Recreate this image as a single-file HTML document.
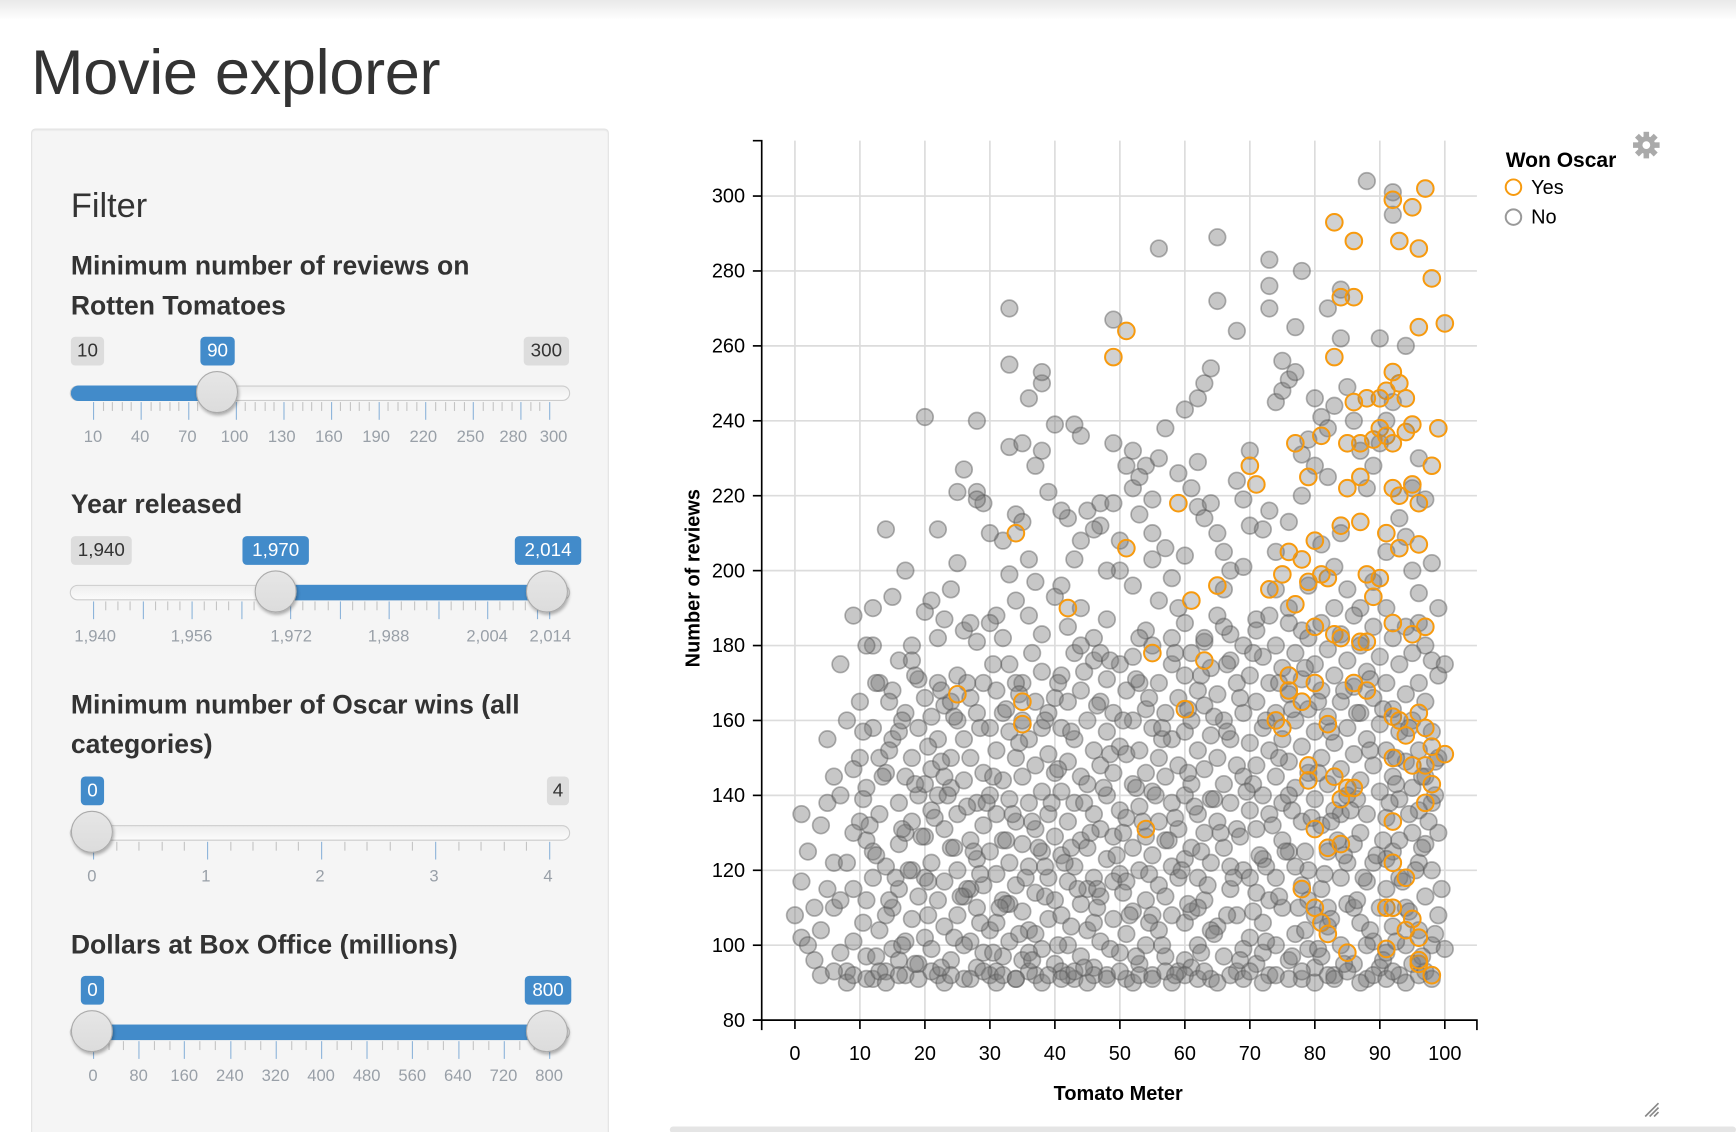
<!DOCTYPE html>
<html><head><meta charset="utf-8">
<style>
html,body{margin:0;padding:0;background:#fff;overflow:hidden;}
body{width:1736px;height:1132px;position:relative;font-family:"Liberation Sans",Arial,sans-serif;}
#wrap{position:absolute;left:0;top:0;width:1568px;height:1022px;transform-origin:0 0;transform:scale(1.10714,1.10763);}
.topshade{position:absolute;left:0;top:0;width:1568px;height:18px;background:linear-gradient(#e9e9e9,#fff);}
h1{position:absolute;left:28px;top:33px;margin:0;font-size:57px;font-weight:normal;color:#333;letter-spacing:-0.3px;}
.panel{position:absolute;left:28px;top:116px;width:520px;height:930px;background:#f5f5f5;border:1px solid #e3e3e3;border-radius:4px;box-shadow:inset 0 1px 1px rgba(0,0,0,.05);}
.abs{position:absolute;}
.lbl{position:absolute;font-weight:bold;font-size:24px;color:#333;line-height:36px;}
.badge{position:absolute;height:26px;line-height:26px;font-size:17px;padding:0 5px;border-radius:4px;text-align:center;}
.gb{background:#ddd;color:#333;}
.bb{background:#428bca;color:#fff;}
.track{position:absolute;height:12px;border:1px solid #ccc;border-radius:7px;background:linear-gradient(#eee,#fbfbfb);}
.fill{position:absolute;height:14px;background:#428bca;}
.handle{position:absolute;width:36px;height:36px;border-radius:50%;border:1px solid #aaa;background:linear-gradient(#e6e6e6,#dcdcdc);box-shadow:1px 2px 3px rgba(0,0,0,.3);}
.tk{position:absolute;width:1px;}
.tl{position:absolute;font-size:15px;color:#99a0a8;transform:translateX(-50%);white-space:nowrap;}
</style></head><body>
<div id="wrap">
<div class="topshade"></div>
<h1>Movie explorer</h1>
<div class="panel"></div>
<div class="abs" style="left:64px;top:168px;font-size:31px;color:#333;">Filter</div>

<div class="lbl" style="left:64px;top:223px;">Minimum number of reviews on<br>Rotten Tomatoes</div>
<div id="s1"></div>

<div class="lbl" style="left:64px;top:438px;">Year released</div>
<div id="s2"></div>

<div class="lbl" style="left:64px;top:619px;">Minimum number of Oscar wins (all<br>categories)</div>
<div id="s3"></div>

<div class="lbl" style="left:64px;top:836px;">Dollars at Box Office (millions)</div>
<div id="s4"></div>

<svg id="chart" class="abs" style="left:0;top:0" width="1568" height="1022"></svg>

<svg class="abs" style="left:1474px;top:118px" width="26" height="26" viewBox="0 0 26 26">
<g fill="#aaa" transform="translate(13,13)">
<circle r="8"/>
<rect x="-2.5" y="-12" width="5" height="24"/><rect x="-2.5" y="-12" width="5" height="24" transform="rotate(45)"/><rect x="-2.5" y="-12" width="5" height="24" transform="rotate(90)"/><rect x="-2.5" y="-12" width="5" height="24" transform="rotate(135)"/>
<circle r="3.5" fill="#fff"/></g></svg>
<svg class="abs" style="left:1484px;top:994px" width="16" height="16"><path d="M2 14 L14 2 M6 14 L14 6 M10 14 L14 10" stroke="#888" stroke-width="1.5"/></svg>
<div class="abs" style="left:605px;top:1017px;width:963px;height:6px;background:#e5e5e5;border-radius:3px;"></div>
</div>

<script>
// ---------- chart data ----------
const xTicks = [0,10,20,30,40,50,60,70,80,90,100];
const yTicks = [80,100,120,140,160,180,200,220,240,260,280,300];
const noOscarMeter = [88,92,92,56,65,73,78,33,65,73,73,49,82,84,68,77,84,90,94,33,38,36,38,33,35,38,40,43,44,49,51,20,28,26,25,28,29,28,22,14,25,24,17,15,12,9,12,11,7,21,20,22,23,26,27,18,16,31,33,32,36,37,41,43,44,45,47,47,49,52,53,55,54,55,55,57,58,59,60,61,62,62,63,64,65,66,66,67,69,70,70,68,72,73,74,75,76,77,75,80,81,82,83,85,86,78,79,80,74,76,78,82,84,87,88,89,90,91,92,93,94,95,96,97,98,99,96,95,91,89,87,85,83,81,79,78,76,74,71,69,67,65,63,60,58,56,54,52,50,48,46,44,42,40,38,36,34,32,30,28,56,59,46,50,42,39,41,30,34,48,62,63,64,60,57,52,53,37,35,97,98,96,99,100,
10,10,11,11,11,11,12,12,12,13,13,13,14,14,14,15,15,15,15,16,16,16,17,17,17,17,18,18,18,18,19,19,19,19,19,20,20,20,10,12,14,16,18,13,16,20,20,17,
21,21,21,21,21,22,22,22,22,22,23,23,23,23,24,24,24,24,25,25,25,25,25,26,26,26,26,27,27,27,27,28,28,28,28,28,29,29,29,29,29,30,30,30,30,30,24,26,23,27,
31,31,31,31,31,31,32,32,32,32,32,33,33,33,33,33,34,34,34,34,35,35,35,35,35,35,36,36,36,36,37,37,37,37,37,38,38,38,38,38,39,39,39,39,40,40,40,40,40,33,36,39,34,37,
41,41,41,41,41,41,42,42,42,42,42,43,43,43,43,43,44,44,44,44,44,45,45,45,45,46,46,46,46,46,47,47,47,47,47,48,48,48,48,48,49,49,49,49,50,50,50,50,50,44,47,45,49,42,46,
51,51,51,51,51,51,52,52,52,52,52,53,53,53,53,53,54,54,54,54,54,55,55,55,55,55,56,56,56,56,56,57,57,57,57,58,58,58,58,58,59,59,59,59,60,60,60,60,60,53,57,59,55,60,
61,61,61,61,61,61,62,62,62,62,62,63,63,63,63,63,64,64,64,64,64,65,65,65,65,66,66,66,66,66,67,67,67,67,68,68,68,68,68,69,69,69,69,70,70,70,70,62,64,67,69,70,
71,71,71,71,71,71,72,72,72,72,72,73,73,73,73,73,74,74,74,74,74,75,75,75,75,76,76,76,76,76,77,77,77,77,78,78,78,78,78,79,79,79,79,79,80,80,80,80,80,72,75,77,79,73,76,
81,81,81,81,81,81,82,82,82,82,82,83,83,83,83,83,84,84,84,84,84,85,85,85,85,86,86,86,86,86,87,87,87,87,88,88,88,88,88,89,89,89,89,89,90,90,90,90,90,82,85,87,84,88,86,
91,91,91,91,91,91,92,92,92,92,92,93,93,93,93,93,94,94,94,94,94,95,95,95,95,96,96,96,96,97,97,97,97,98,98,98,98,99,99,99,100,95,93,91,96,97,
0,1,1,1,2,3,3,4,4,5,5,5,6,6,6,7,7,8,8,8,9,9,9,9,7,4,6,2,
8,9,11,13,14,16,19,21,23,24,27,29,31,32,34,36,38,39,41,43,45,46,48,50,52,53,55,57,58,60,62,63,65,67,69,70,72,74,76,78,80,82,83,85,87,89,91,92,94,96,98,
10.5,12.5,14.5,16.5,18.5,20.5,22.5,24.5,26.5,28.5,30.5,32.5,34.5,36.5,38.5,40.5,42.5,44.5,46.5,48.5,50.5,52.5,54.5,56.5,58.5,60.5,62.5,64.5,66.5,68.5,70.5,72.5,74.5,76.5,78.5,80.5,82.5,84.5,86.5,88.5,90.5,92.5,94.5,96.5,98.5,
10.5,12.5,14.5,16.5,18.5,20.5,22.5,24.5,26.5,28.5,30.5,32.5,34.5,36.5,38.5,40.5,42.5,44.5,46.5,48.5,50.5,52.5,54.5,56.5,58.5,60.5,62.5,64.5,66.5,68.5,70.5,72.5,74.5,76.5,78.5,80.5,82.5,84.5,86.5,88.5,90.5,92.5,94.5,96.5,98.5,
10.5,12.5,14.5,16.5,18.5,20.5,22.5,24.5,26.5,28.5,30.5,32.5,34.5,36.5,38.5,40.5,42.5,44.5,46.5,48.5,50.5,52.5,54.5,56.5,58.5,60.5,62.5,64.5,66.5,68.5,70.5,72.5,74.5,76.5,78.5,80.5,82.5,84.5,86.5,88.5,90.5,92.5,94.5,96.5,98.5,
11.5,13.5,15.5,17.5,19.5,21.5,23.5,25.5,27.5,29.5,31.5,33.5,35.5,37.5,39.5,41.5,43.5,45.5,47.5,49.5,51.5,53.5,55.5,57.5,59.5,61.5,63.5,65.5,67.5,69.5,71.5,73.5,75.5,77.5,79.5,81.5,83.5,85.5,87.5,89.5,91.5,93.5,95.5,97.5,99.5];
const noOscarReviews = [304,301,295,286,289,283,280,270,272,276,270,267,270,275,264,265,262,262,260,255,250,246,253,233,234,232,239,239,236,234,228,241,240,227,221,221,218,219,211,211,202,195,200,193,190,188,180,180,175,192,189,182,187,184,186,180,176,188,199,208,203,197,196,203,208,216,218,212,218,222,215,219,228,210,203,206,198,190,204,222,229,217,214,218,210,205,195,200,219,212,232,224,211,216,245,248,251,253,256,246,241,238,244,249,240,231,235,228,205,213,220,225,210,232,222,228,234,240,245,214,209,222,230,219,202,190,194,200,205,197,190,195,201,207,196,184,190,195,187,201,183,188,181,186,182,192,184,196,200,187,182,190,185,193,183,188,192,182,186,181,230,226,211,208,214,221,216,210,215,200,246,250,254,243,238,232,225,228,213,180,176,186,172,175,
165,150,142,128,112,97,118,91,158,135,104,170,146,121,93,168,155,110,99,138,127,115,162,145,101,92,150,133,120,107,171,158,140,113,95,166,129,102,133,125,108,96,176,150,157,143,118,130,
161,147,136,122,99,170,155,140,112,92,164,131,117,105,150,142,126,96,172,160,135,120,108,155,144,113,91,166,150,128,101,162,138,123,110,94,170,146,132,116,98,158,140,125,104,92,165,100,145,115,
168,152,135,119,106,93,162,144,128,112,97,175,157,139,122,101,150,133,116,91,170,160,145,127,109,96,155,138,121,104,165,148,131,114,92,173,158,141,125,99,151,135,118,107,166,146,129,112,95,111,98,162,170,103,
172,158,141,124,108,93,165,149,133,117,100,178,155,138,121,91,168,145,128,111,97,160,143,126,104,176,152,135,118,94,165,148,131,113,101,171,157,140,123,92,162,146,129,107,175,153,136,119,98,180,178,115,117,92,106,
168,151,134,117,103,91,177,160,143,126,109,170,152,137,120,95,163,146,129,112,100,180,158,141,124,92,170,150,133,116,104,162,145,128,97,175,155,138,121,108,166,148,131,93,172,157,140,123,106,182,113,118,108,96,
178,160,143,126,109,94,168,152,135,118,100,182,164,147,130,112,174,156,139,122,91,167,150,133,105,185,160,143,126,97,176,155,138,115,170,148,131,108,93,180,162,145,120,172,154,136,102,110,104,121,99,118,
184,165,148,131,114,95,177,158,140,123,106,188,170,152,135,92,180,162,145,118,100,174,155,138,110,186,167,149,125,96,178,160,142,103,171,153,133,116,91,182,163,146,120,99,175,157,139,108,94,98,128,121,112,112,140,
186,168,150,132,115,97,179,161,143,125,105,190,172,154,136,92,183,165,147,118,100,176,158,140,111,188,169,151,127,95,180,162,144,106,173,155,135,117,91,185,166,148,122,101,177,159,141,110,94,110,122,130,135,100,110,
190,170,152,134,115,98,182,163,145,125,105,175,157,139,118,92,185,167,149,110,100,178,160,130,95,170,152,122,104,165,145,113,93,157,138,120,100,150,130,108,99,142,128,123,136,127,
108,117,102,135,125,96,110,104,132,115,138,155,145,110,122,98,140,122,93,160,101,147,130,115,112,92,93,100,
90,92,91,93,90,92,91,93,90,92,91,93,90,92,91,93,90,92,91,93,90,92,91,93,90,92,91,93,90,92,91,93,90,92,91,93,90,92,91,93,90,92,91,93,90,92,91,93,90,92,91,
139,124,152,131,143,117,149,126,137,119,145,128,154,133,121,147,126,138,115,151,130,142,119,155,134,146,125,139,157,129,143,121,150,136,125,146,133,124,139,152,128,143,135,126,140,
106,97,112,100,95,108,94,102,115,106,98,111,103,96,113,100,105,94,110,99,114,97,106,100,92,111,98,103,108,96,109,101,113,97,104,99,107,95,112,104,96,101,109,97,103,
157,170,165,160,172,153,168,161,170,158,175,163,167,178,160,170,157,173,164,176,160,171,166,158,178,163,172,161,175,166,178,160,170,163,174,165,157,168,162,171,163,150,158,145,149,
132,145,118,120,129,134,140,113,125,138,110,135,118,126,138,122,115,130,142,124,108,133,140,128,120,137,116,130,118,141,124,132,125,110,134,119,128,136,118,124,138,117,120,133,115];
const oscarMeter = [97,83,92,95,86,93,96,84,86,98,96,100,51,49,83,93,92,91,94,90,88,86,81,77,85,87,89,90,91,92,94,95,99,98,70,71,79,85,87,92,93,95,96,34,51,59,84,87,91,93,96,76,78,80,82,75,73,65,61,42,77,81,79,88,90,89,80,83,84,87,88,92,95,97,55,63,76,76,80,86,88,25,35,35,60,75,74,82,78,92,93,96,97,92,94,98,100,95,79,79,83,84,85,86,97,98,97,54,92,80,82,84,92,94,78,80,81,82,91,92,95,94,91,96,85,96,98,96];
const oscarReviews = [302,293,299,297,288,288,286,273,273,278,265,266,264,257,257,250,253,248,246,246,246,245,236,234,234,234,235,238,236,234,237,239,238,228,228,223,225,222,225,222,220,223,218,210,206,218,212,213,210,206,207,205,203,208,198,199,195,196,192,190,191,199,197,199,198,193,185,183,182,181,181,186,183,185,178,176,172,168,170,170,168,167,165,159,163,158,160,159,165,161,160,162,158,150,156,153,151,148,148,144,145,139,142,142,148,143,138,131,133,131,126,127,122,118,115,110,106,103,110,110,107,104,99,102,98,95,92,96];

// ---------- scales ----------
const X0=718, X1=1305, Y0=921, Y1=177;
function sx(v){return X0+(v-0)/(100-0)*(X1-X0);}
function sy(v){return Y0-(v-80)/(300-80)*(Y0-Y1);}
const NS="http://www.w3.org/2000/svg";
const svg=document.getElementById('chart');
function mk(tag,attrs,parent){const e=document.createElementNS(NS,tag);for(const k in attrs)e.setAttribute(k,attrs[k]);(parent||svg).appendChild(e);return e;}

for(const t of xTicks){
  const g=mk('line',{x1:sx(t),x2:sx(t),y1:127,y2:921,stroke:'#dcdcdc','stroke-width':1.5});
  
  
}
for(const t of yTicks){
  const g=mk('line',{x1:688,x2:1334,y1:sy(t),y2:sy(t),stroke:'#dcdcdc','stroke-width':1.5});
  
  
}
for(let i=0;i<noOscarMeter.length;i++){
  const c=mk('circle',{cx:sx(noOscarMeter[i]),cy:sy(noOscarReviews[i]),r:7.5,fill:'#7a7a7a','fill-opacity':0.42,stroke:'#555','stroke-opacity':0.45,'stroke-width':1.5});
  
  
}
for(let i=0;i<oscarMeter.length;i++){
  const c=mk('circle',{cx:sx(oscarMeter[i]),cy:sy(oscarReviews[i]),r:7.5,fill:'#7a7a7a','fill-opacity':0.35,stroke:'#f79a0e','stroke-width':1.8});
  
  
}
const ya=mk('path',{d:'M680 127 H688 V921 H680',fill:'none',stroke:'#000','stroke-width':1.5});


const xa=mk('path',{d:'M688 930 V921 H1334 V930',fill:'none',stroke:'#000','stroke-width':1.5});


for(const t of xTicks){
  const l=mk('line',{x1:sx(t),x2:sx(t),y1:921,y2:929,stroke:'#000','stroke-width':1.5});
  
  
  const tx=mk('text',{x:sx(t),y:957,'text-anchor':'middle','font-size':18,fill:'#000'});
  tx.textContent=t;
  
  
}
for(const t of yTicks){
  const l=mk('line',{x1:680,x2:688,y1:sy(t),y2:sy(t),stroke:'#000','stroke-width':1.5});
  
  
  const tx=mk('text',{x:673,y:sy(t)+6,'text-anchor':'end','font-size':18,fill:'#000'});
  tx.textContent=t;
  
  
}
const xt=mk('text',{x:1010,y:993,'text-anchor':'middle','font-size':18,'font-weight':'bold',fill:'#000'});
xt.textContent='Tomato Meter';


const yt=mk('text',{x:0,y:0,'text-anchor':'middle','font-size':18,'font-weight':'bold',fill:'#000',transform:'translate(632,522) rotate(-90)'});
yt.textContent='Number of reviews';


const lt=mk('text',{x:1360,y:151,'font-size':19,'font-weight':'bold',fill:'#000'});
lt.textContent='Won Oscar';


const legendItems=[['Yes','#f79a0e',169],['No','#999',196]];
for(const [name,col,y] of legendItems){
  const c=mk('circle',{cx:1367,cy:y,r:7,fill:'none',stroke:col,'stroke-width':1.8});
  
  
  const t=mk('text',{x:1383,y:y+6,'font-size':18,fill:'#000'});
  t.textContent=name;
  
  
}

// ---------- sliders ----------
function slider(host, cfg){
  const h=document.getElementById(host);
  h.className='abs';h.style.left='0';h.style.top='0';
  const tc=cfg.trackY;
  const tr=document.createElement('div');tr.className='track';
  tr.style.left='63px';tr.style.width='450px';tr.style.top=(tc-7)+'px';
  
  
  h.appendChild(tr);
  if(cfg.fill){const f=document.createElement('div');f.className='fill';
    f.style.left=cfg.fill[0]+'px';f.style.width=(cfg.fill[1]-cfg.fill[0])+'px';f.style.top=(tc-7)+'px';
    f.style.borderRadius=cfg.fill[0]<70?'7px 0 0 7px':'0';
    
    
    h.appendChild(f);}
  for(let i=0;i<=cfg.nTicks;i++){
    const x=84+i*(412/cfg.nTicks);
    const major=(i%cfg.majorEvery===0)||i===cfg.nTicks;
    const t=document.createElement('div');t.className='tk';
    t.style.left=x+'px';t.style.top=(tc+8)+'px';t.style.height=(major?16:8)+'px';
    t.style.background=major?'#8db4da':'#c4c4c4';
    
    
    h.appendChild(t);
  }
  for(const [x,txt] of cfg.labels){
    const l=document.createElement('div');l.className='tl';
    l.style.left=x+'px';l.style.top=(tc+31)+'px';l.textContent=txt;
    
    
    h.appendChild(l);
  }
  for(const hx of cfg.handles){
    const k=document.createElement('div');k.className='handle';
    k.style.left=(hx-19)+'px';k.style.top=(tc-20)+'px';
    
    
    h.appendChild(k);
  }
  for(const [x,w,txt,cls] of cfg.badges){
    const b=document.createElement('div');b.className='badge '+cls;
    b.style.left=x+'px';b.style.minWidth=(w-10)+'px';b.style.top=(tc-51)+'px';b.textContent=txt;
    
    
    h.appendChild(b);
  }
}
const s1Labels=[10,40,70,100,130,160,190,220,250,280,300];
slider('s1',{trackY:355,fill:[64,196],handles:[196],nTicks:48,majorEvery:5,
  labels:s1Labels.map((v,i)=>[84+(v-10)/290*412+(v===280?-4:v===300?4:0),String(v)]),
  badges:[[64,30,'10','gb'],[181,31,'90','bb'],[473,41,'300','gb']]});
slider('s2',{trackY:535,fill:[249,494],handles:[249,494],nTicks:37,majorEvery:4,
  labels:[[86,'1,940'],[173,'1,956'],[263,'1,972'],[351,'1,988'],[440,'2,004'],[497,'2,014']],
  badges:[[64,55,'1,940','gb'],[219,60,'1,970','bb'],[465,60,'2,014','bb']]});
slider('s3',{trackY:752,fill:null,handles:[83],nTicks:20,majorEvery:5,
  labels:[[83,'0'],[186,'1'],[289,'2'],[392,'3'],[495,'4']],
  badges:[[73,21,'0','bb'],[494,20,'4','gb']]});
slider('s4',{trackY:932,fill:[83,494],handles:[83,494],nTicks:30,majorEvery:3,
  labels:[0,80,160,240,320,400,480,560,640,720,800].map(v=>[84+v/800*412,String(v)]),
  badges:[[73,21,'0','bb'],[474,42,'800','bb']]});
</script>
</body></html>
